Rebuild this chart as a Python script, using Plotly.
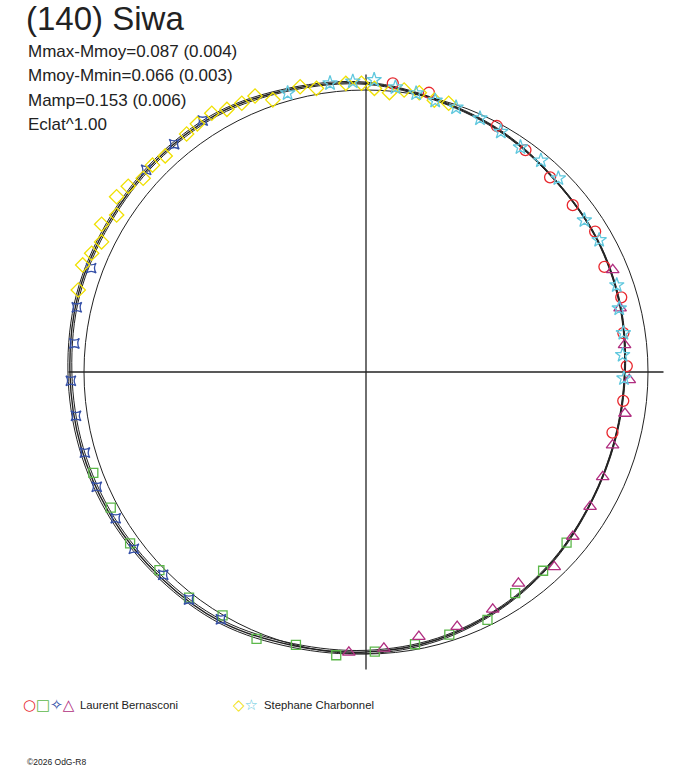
import numpy as np
import plotly.graph_objects as go

# model lightcurve in polar form (radius relative to the mean circle), every 15 deg
curve_theta = [0, 15, 30, 45, 60, 75, 90, 105, 120, 135, 150, 165,
               180, 195, 210, 225, 240, 255, 270, 285, 300, 315, 330, 345, 360]
curve_mid = [0.918, 0.932, 0.945, 0.955, 0.977, 0.996, 1.024, 1.038, 1.056, 1.057, 1.055, 1.057,
             1.050, 1.045, 1.038, 1.030, 1.024, 1.004, 0.993, 0.982, 0.963, 0.942, 0.922, 0.915, 0.918]
curve_out = [0.920, 0.934, 0.947, 0.957, 0.980, 0.999, 1.028, 1.043, 1.062, 1.063, 1.061, 1.063,
             1.057, 1.052, 1.045, 1.037, 1.031, 1.011, 0.999, 0.987, 0.967, 0.945, 0.924, 0.917, 0.920]
curve_in = [0.916, 0.930, 0.943, 0.953, 0.974, 0.993, 1.020, 1.033, 1.050, 1.051, 1.049, 1.051,
            1.043, 1.038, 1.031, 1.023, 1.017, 0.997, 0.987, 0.977, 0.959, 0.939, 0.920, 0.913, 0.916]

# observations (phase angle in deg, relative radius)
red_theta = [84.7, 77.3, 62.0, 54.3, 46.6, 38.9, 31.5, 23.8, 16.3, 8.6, 1.3, -6.4, -13.8]
red_r = [1.028, 1.015, 0.988, 0.969, 0.950, 0.942, 0.953, 0.924, 0.943, 0.923, 0.925, 0.918, 0.900]

green_theta = [-40.4, -48.3, -56.0, -63.9, -72.4, -79.8, -88.2, -96.0,
               -104.4, -112.3, -120.5, -128.1, -136.2, -144.0, -152.0, -159.7]
green_r = [0.934, 0.944, 0.946, 0.979, 0.977, 0.981, 0.992, 1.010,
           0.999, 1.023, 1.002, 1.017, 1.015, 1.034, 1.025, 1.031]

blue_theta = [123.0, 130.1, 137.4, 159.3, 167.4, 174.4, 181.7, 188.6,
              196.0, 203.1, 210.3, 217.3, 225.0, 232.1, 239.6]
blue_r = [1.063, 1.056, 1.059, 1.042, 1.051, 1.039, 1.047, 1.040,
          1.037, 1.038, 1.028, 1.035, 1.017, 1.022, 1.017]

magenta_theta = [22.5, 14.1, 6.0, -1.7, -9.1, -16.5, -23.9, -31.0,
                 -38.5, -46.0, -54.2, -61.9, -70.3, -78.7, -86.3, -93.5]
magenta_r = [0.947, 0.929, 0.922, 0.934, 0.930, 0.912, 0.918, 0.927,
             0.937, 0.961, 0.924, 0.954, 0.959, 0.957, 0.982, 0.996]

yellow_theta = [164.1, 159.3, 156.6, 153.8, 150.8, 147.8, 144.9, 142.0, 139.0, 135.9,
                132.9, 127.0, 124.2, 120.8, 117.9, 114.8, 111.9, 108.9, 103.0, 99.9,
                94.0, 90.9, 88.3, 85.2, 82.3, 79.2, 75.9, 72.9]
yellow_r = [1.061, 1.074, 1.060, 1.045, 1.074, 1.045, 1.081, 1.070, 1.047, 1.054,
            1.046, 1.057, 1.064, 1.068, 1.054, 1.050, 1.055, 1.020, 1.038, 1.021,
            1.026, 1.024, 1.006, 0.994, 1.009, 1.008, 0.994, 0.997]

cyan_theta = [105.7, 97.1, 92.6, 88.4, 84.1, 79.8, 75.7, 71.2, 65.8, 60.7,
              55.5, 50.4, 45.2, 34.8, 29.5, 19.1, 14.1, 8.6, 3.8, -1.4]
cyan_r = [1.027, 1.032, 1.031, 1.036, 1.015, 1.004, 0.993, 0.991, 0.986, 0.977,
          0.967, 0.973, 0.968, 0.943, 0.950, 0.941, 0.926, 0.923, 0.912, 0.915]

title = "(140) Siwa"
stats = ["Mmax-Mmoy=0.087 (0.004)", "Mmoy-Mmin=0.066 (0.003)",
         "Mamp=0.153 (0.006)", "Eclat^1.00"]

W, H = 688, 768
cx, cy, R = 366, 372, 282      # centre and unit-circle radius in px
rmax = 1.1
half = rmax * R
ink = "#222222"

fig = go.Figure()

# axes cross
axis_len = 1.055
fig.add_trace(go.Scatterpolar(r=[axis_len, 0, axis_len], theta=[180, 0, 0], mode="lines",
                              line=dict(color=ink, width=1.3), hoverinfo="skip"))
fig.add_trace(go.Scatterpolar(r=[axis_len, 0, axis_len], theta=[90, 0, 270], mode="lines",
                              line=dict(color=ink, width=1.3), hoverinfo="skip"))

# mean-magnitude circle
circ_t = np.arange(0, 361, 3)
fig.add_trace(go.Scatterpolar(r=np.ones(len(circ_t)), theta=circ_t, mode="lines",
                              line=dict(color=ink, width=1), hoverinfo="skip"))

for rr, w in [(curve_out, 1), (curve_in, 1), (curve_mid, 1.4)]:
    fig.add_trace(go.Scatterpolar(r=rr, theta=curve_theta, mode="lines",
                                  line=dict(color=ink, width=w, shape="spline"),
                                  hoverinfo="skip"))

series = [
    (red_theta, red_r, "circle-open", "#e8282e", 11),
    (green_theta, green_r, "square-open", "#5cb84a", 9),
    (blue_theta, blue_r, "star-square-open", "#3550a8", 9),
    (magenta_theta, magenta_r, "triangle-up-open", "#b02e80", 11),
    (yellow_theta, yellow_r, "diamond-open", "#f0e000", 11),
    (cyan_theta, cyan_r, "star-open", "#60c8de", 11),
]
for th, rr, sym, col, sz in series:
    fig.add_trace(go.Scatterpolar(r=rr, theta=th, mode="markers", cliponaxis=False,
                                  marker=dict(symbol=sym, size=sz, color=col,
                                              line=dict(color=col, width=1.3))))

ann = [dict(text=title, x=24 / W, y=1 - 18 / H, font=dict(size=33, color=ink))]
for i, s in enumerate(stats):
    ann.append(dict(text=s, x=26 / W, y=1 - (51.5 + 24.4 * i) / H,
                    font=dict(size=17, color=ink)))

leg_y = 1 - 705 / H
ann += [
    dict(text="<span style='color:#e8282e'>○</span><span style='color:#5cb84a'>□</span>"
              "<span style='color:#3550a8'>✧</span><span style='color:#b02e80'>△</span>",
         x=21 / W, y=leg_y, font=dict(size=15, family="DejaVu Sans")),
    dict(text="Laurent Bernasconi", x=78 / W, y=leg_y, font=dict(size=11.3, color=ink)),
    dict(text="<span style='color:#f0e000'>◇</span><span style='color:#60c8de'>☆</span>",
         x=231 / W, y=leg_y, font=dict(size=15, family="DejaVu Sans")),
    dict(text="Stephane Charbonnel", x=262 / W, y=leg_y, font=dict(size=11.3, color=ink)),
    dict(text="©2026 OdG-R8", x=25 / W, y=1 - 762 / H, font=dict(size=8.5, color=ink)),
]
for a in ann:
    a.update(xref="paper", yref="paper", xanchor="left", yanchor="middle",
             showarrow=False)

fig.update_layout(
    width=W, height=H,
    margin=dict(l=0, r=0, t=0, b=0),
    paper_bgcolor="white",
    showlegend=False,
    font=dict(family="Liberation Sans, Arial, sans-serif"),
    polar=dict(
        domain=dict(x=[(cx - half) / W, (cx + half) / W],
                    y=[(H - cy - half) / H, (H - cy + half) / H]),
        bgcolor="rgba(0,0,0,0)",
        radialaxis=dict(range=[0, rmax], visible=False),
        angularaxis=dict(visible=False, rotation=0, direction="counterclockwise"),
    ),
    annotations=ann,
)

# page body has a default margin; remove it so the figure fills the window
fig.write_html("out.html", config={"displayModeBar": False},
               post_script="document.body.style.margin='0px';")
